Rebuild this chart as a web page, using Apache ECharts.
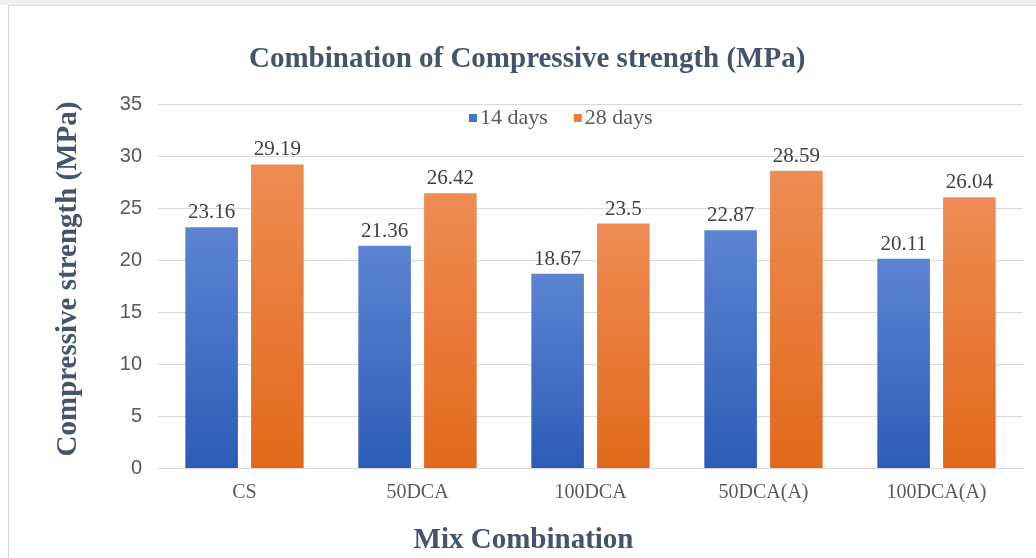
<!DOCTYPE html>
<html>
<head>
<meta charset="utf-8">
<script src="https://cdn.jsdelivr.net/npm/echarts@6/dist/echarts.min.js"></script>
<style>
  html, body { margin: 0; padding: 0; background: #fff; }
  #strip { position: absolute; left: 0; top: 0; width: 1036px; height: 5px; background: #efefef; }
  #frame { position: absolute; left: 8px; top: 5px; width: 1028px; height: 553px;
           border-left: 1px solid #d9d9d9; border-top: 1px solid #d9d9d9; box-sizing: border-box; }
  #chart { position: absolute; left: 0; top: 0; width: 1036px; height: 558px; }
</style>
</head>
<body>
<div id="strip"></div>
<div id="frame"></div>
<div id="chart"></div>
<script>
// Mix combinations and their compressive strengths (MPa)
const categories = ['CS', '50DCA', '100DCA', '50DCA(A)', '100DCA(A)'];
const days14 = [23.16, 21.36, 18.67, 22.87, 20.11];
const days28 = [29.19, 26.42, 23.5, 28.59, 26.04];
const seriesNames = ['14 days', '28 days'];
const yTicks = { min: 0, max: 35, interval: 5 };

const serif = '"Liberation Serif", "Times New Roman", serif';
const titleColor = '#44546A';
const textColor = '#404040';

function vGrad(top, bottom) {
  return new echarts.graphic.LinearGradient(0, 0, 0, 1, [
    { offset: 0, color: top },
    { offset: 1, color: bottom }
  ]);
}

const chart = echarts.init(document.getElementById('chart'), null, { renderer: 'canvas' });
chart.setOption({
  backgroundColor: 'transparent',
  animation: false,
  title: {
    text: 'Combination of Compressive strength (MPa)',
    left: 244,
    top: 40,
    textStyle: { fontFamily: serif, fontWeight: 'bold', fontSize: 29, color: titleColor }
  },
  legend: {
    data: [
      { name: seriesNames[0], itemStyle: { color: '#4472C4' } },
      { name: seriesNames[1], itemStyle: { color: '#ED7D31' } }
    ],
    left: 464,
    top: 102,
    icon: 'rect',
    itemWidth: 8,
    itemHeight: 8,
    itemGap: 26,
    textStyle: { fontFamily: serif, fontSize: 22, color: '#595959', padding: [0, 0, 0, -2] }
  },
  grid: { left: 158, right: 13, top: 104, bottom: 90, outerBoundsMode: 'none' },
  xAxis: {
    type: 'category',
    data: categories,
    name: 'Mix Combination',
    nameLocation: 'middle',
    nameGap: 58,
    nameTextStyle: {
      fontFamily: serif, fontWeight: 'bold', fontSize: 29, color: titleColor,
      padding: [0, 134, 0, 0]
    },
    axisLine: { lineStyle: { color: '#d9d9d9', width: 1 } },
    axisTick: { show: false },
    axisLabel: { fontFamily: serif, fontSize: 20, color: '#595959', margin: 15 }
  },
  yAxis: {
    type: 'value',
    min: yTicks.min,
    max: yTicks.max,
    interval: yTicks.interval,
    name: 'Compressive strength (MPa)',
    nameLocation: 'middle',
    nameGap: 75,
    nameRotate: 90,
    nameTextStyle: {
      fontFamily: serif, fontWeight: 'bold', fontSize: 29, color: titleColor,
      padding: [0, 0, 0, 14]
    },
    axisLine: { show: false },
    axisTick: { show: false },
    splitLine: { lineStyle: { color: '#d9d9d9', width: 1 } },
    axisLabel: { fontFamily: '"Liberation Sans", Arial, sans-serif', fontSize: 20, color: '#595959', margin: 16 }
  },
  series: [
    {
      name: seriesNames[0],
      type: 'bar',
      data: days14,
      barGap: '25%',
      barCategoryGap: '31.6%',
      itemStyle: { color: vGrad('#5D84D2', '#2C5CB8') },
      label: {
        show: true, position: 'top', distance: 4,
        fontFamily: serif, fontSize: 21, color: textColor
      }
    },
    {
      name: seriesNames[1],
      type: 'bar',
      data: days28,
      itemStyle: { color: vGrad('#EE8C54', '#E2691A') },
      label: {
        show: true, position: 'top', distance: 4,
        fontFamily: serif, fontSize: 21, color: textColor
      }
    }
  ]
});
</script>
</body>
</html>
